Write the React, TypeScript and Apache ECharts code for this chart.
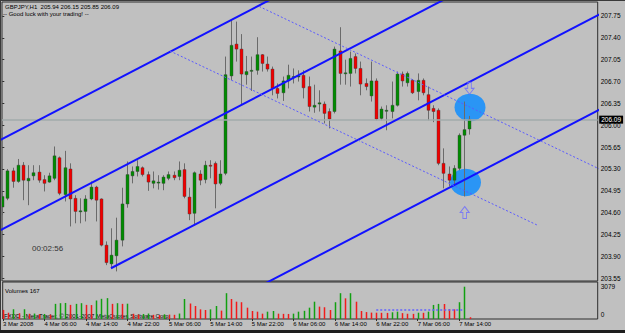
import React, { useEffect, useRef } from 'react';
import * as echarts from 'echarts';

const symbolName = 'GBPJPY,H1';

const opens = [204.69,204.83,205.27,205.10,205.36,205.11,205.19,205.25,205.13,205.09,
205.15,205.48,204.89,205.30,204.83,204.63,204.62,204.82,205.01,204.82,
204.08,203.78,203.91,204.16,204.74,205.19,205.26,205.32,205.21,205.07,
205.09,205.07,205.15,205.20,205.18,205.29,204.85,204.59,205.22,205.13,
205.36,205.39,205.07,205.23,206.79,207.30,207.22,206.81,206.88,206.88,
207.13,206.98,206.90,206.59,206.52,206.71,206.78,206.79,206.80,206.62,
206.29,206.34,206.34,206.22,206.22,207.19,206.84,206.83,207.10,206.91,
206.67,206.47,206.71,206.11,206.24,206.22,206.32,206.82,206.68,206.72,
206.54,206.72,206.49,206.27,206.24,205.39,205.22,205.12,205.31,205.84,
205.94];

const highs = [204.93,205.30,205.32,205.46,205.41,205.36,205.36,205.36,205.20,205.24,
205.66,205.50,205.59,205.39,204.88,204.83,204.88,205.10,205.03,204.83,
204.14,204.35,204.52,205.00,205.42,205.34,205.44,205.34,205.26,205.26,
205.20,205.20,205.26,205.26,205.42,205.39,205.00,205.26,205.28,205.43,
205.44,205.42,205.44,207.10,207.69,207.66,207.46,207.11,207.10,207.41,
207.14,207.10,206.94,206.67,206.78,206.97,206.91,206.88,206.88,206.78,
206.65,206.56,206.38,206.27,207.26,207.57,207.05,207.18,207.15,207.02,
206.75,207.02,206.75,206.30,206.32,206.70,206.86,206.86,206.86,206.74,
206.83,206.75,206.62,206.32,206.27,205.63,205.34,205.36,205.87,206.38,
206.15];

const lows = [204.56,204.80,205.00,205.08,204.80,204.72,205.12,205.08,204.94,205.08,
205.12,204.88,204.78,204.38,204.43,204.43,204.46,204.80,204.46,204.06,
203.76,203.71,203.66,204.06,204.68,205.07,205.18,205.18,204.95,204.99,
204.97,204.96,205.12,205.12,205.12,204.83,204.48,204.40,205.04,205.07,
205.15,204.67,205.04,205.20,206.72,207.02,206.32,206.65,206.55,206.81,
206.86,206.86,206.48,206.43,206.39,206.59,206.67,206.70,206.43,206.22,
206.20,206.22,206.03,205.95,206.19,206.65,206.65,206.62,206.83,206.48,
206.56,206.38,206.08,206.08,205.92,206.11,206.30,206.62,206.62,206.50,
206.40,206.48,206.08,206.05,205.36,204.99,205.02,205.04,205.28,204.86,
205.85];

const closes = [204.86,205.27,205.10,205.36,205.12,205.15,205.24,205.12,205.07,205.19,
205.51,204.91,205.32,204.82,204.62,204.63,204.82,205.01,204.80,204.08,
203.80,203.92,204.16,204.74,205.21,205.26,205.34,205.21,205.09,205.11,
205.09,205.17,205.21,205.16,205.28,204.86,204.58,205.24,205.12,205.36,
205.35,205.06,205.22,206.81,207.28,207.22,206.82,206.86,206.88,207.13,
206.99,206.90,206.59,206.51,206.71,206.80,206.78,206.79,206.60,206.30,
206.32,206.36,206.19,206.10,207.22,206.83,206.84,207.07,206.91,206.66,
206.62,206.71,206.10,206.26,206.24,206.32,206.82,206.71,206.83,206.52,
206.72,206.52,206.24,206.22,205.39,205.23,205.12,205.31,205.84,205.93,
206.09];

const volumes = [866,600,930,550,930,500,520,450,480,420,
1443,1507,1530,1347,1443,1507,1347,1330,1763,1924,
1990,1443,1507,1443,1460,500,420,480,520,400,
380,450,420,400,520,1905,1477,1239,921,858,
921,1239,800,2460,1905,1652,1600,1080,763,699,
508,699,763,508,490,480,510,699,780,1080,
1650,1180,1120,860,1600,2460,1970,2460,1650,760,
660,610,600,590,580,640,700,560,500,490,
600,590,700,1340,1440,1430,930,920,1600,3079,
167];

const tickIndex = [0, 8, 16, 24, 32, 40, 48, 56, 64, 72, 80, 88];
const tickLabels = ['3 Mar 2008', '4 Mar 06:00', '4 Mar 14:00', '4 Mar 22:00', '5 Mar 06:00', '5 Mar 14:00',
  '5 Mar 22:00', '6 Mar 06:00', '6 Mar 14:00', '6 Mar 22:00', '7 Mar 06:00', '7 Mar 14:00'];
const priceTicks = [207.75, 207.40, 207.05, 206.70, 206.35, 206.00, 205.65, 205.30, 204.95, 204.60, 204.25, 203.90, 203.55];
const volumeTicks = [0, 3079];

// drawn objects (bar index, price)
const channelLines = [
  [[-1, 205.737], [53, 208.071]],
  [[-1, 204.291], [87, 208.094]],
  [[20.94, 203.710], [116, 207.818]],
  [[45, 203.223], [116, 206.292]],
];
const dottedLines = [
  [[49.5, 207.903], [116, 205.262]],
  [[32.31, 207.189], [103.02, 204.403]],
];
const circleMarks = [[90.12, 206.285], [89.25, 205.084]];
const downArrows = [[90.02, 206.592]];
const upArrows = [[89.09, 204.603]];
const volumeLevel = [[72, 860], [89, 860]];

const FONT = '"Liberation Sans", Arial, sans-serif';

export default function App() {
  const ref = useRef<HTMLDivElement>(null);
  useEffect(() => {
    if (!ref.current) return;
    const chart = echarts.init(ref.current, null, { renderer: 'svg' });
    const n = closes.length;
    const last = n - 1;
    const xMin = -0.058;
    const xMax = 114.72;
    const title = `${symbolName}  ${opens[last].toFixed(2)} ${highs[last].toFixed(2)} ${lows[last].toFixed(2)} ${closes[last].toFixed(2)}`;

    const candleData = opens.map((o, i) => [i, o, closes[i], lows[i], highs[i]]);
    const volData = volumes.map((v, i) => [i, v, i > 0 && v > volumes[i - 1] ? 1 : 0]);

    const lineSeries: any[] = [];
    channelLines.forEach((pts) => {
      lineSeries.push({
        type: 'line', xAxisIndex: 0, yAxisIndex: 0, data: pts, symbol: 'none', z: 5, silent: true,
        lineStyle: { color: '#1212ff', width: 2 }, clip: true,
      });
    });
    dottedLines.forEach((pts) => {
      lineSeries.push({
        type: 'line', xAxisIndex: 0, yAxisIndex: 0, data: pts, symbol: 'none', z: 5, silent: true,
        lineStyle: { color: '#5a5aff', width: 1, type: [2, 2] }, clip: true,
      });
    });

    const option: any = {
      animation: false,
      backgroundColor: '#c0c0c0',
      grid: [
        { left: 2, top: 2, width: 595.7, height: 279, show: true, borderColor: '#2e2e2e', borderWidth: 1, backgroundColor: 'transparent' },
        { left: 2, top: 282, width: 595.7, height: 37, show: true, borderColor: '#2e2e2e', borderWidth: 1, backgroundColor: 'transparent' },
      ],
      xAxis: [
        { type: 'value', gridIndex: 0, min: xMin, max: xMax, show: false },
        {
          type: 'value', gridIndex: 1, min: xMin, max: xMax,
          axisLine: { show: false }, splitLine: { show: false },
          axisTick: { show: true, customValues: tickIndex, length: 2, lineStyle: { color: '#2e2e2e' } },
          axisLabel: {
            customValues: tickIndex, align: 'left', margin: 2, fontSize: 6, fontFamily: FONT, color: '#000',
            formatter: (v: number) => tickLabels[tickIndex.indexOf(Math.round(v))] || '',
          },
        },
      ],
      yAxis: [
        {
          type: 'value', gridIndex: 0, position: 'right', min: 203.506, max: 207.974,
          axisLine: { show: false }, splitLine: { show: false },
          axisTick: { show: true, customValues: priceTicks, length: 2, lineStyle: { color: '#2e2e2e' } },
          axisLabel: { customValues: priceTicks, margin: 3, fontSize: 6.5, fontFamily: FONT, color: '#000', formatter: (v: number) => v.toFixed(2) },
        },
        {
          type: 'value', gridIndex: 1, position: 'right', min: 0, max: 3527,
          axisLine: { show: false }, splitLine: { show: false },
          axisTick: { show: false },
          axisLabel: {
            customValues: volumeTicks, margin: 3, fontSize: 6.5, fontFamily: FONT, color: '#000',
            formatter: (v: number) => (v === 0 ? '{lo|0}' : String(v)),
            rich: { lo: { padding: [0, 0, 10, 0], fontSize: 6.5, fontFamily: FONT, color: '#000' } },
          },
        },
      ],
      series: [
        {
          type: 'scatter', xAxisIndex: 0, yAxisIndex: 0, data: circleMarks, symbol: 'circle', symbolSize: [31, 27.5], z: 1, silent: true,
          itemStyle: { color: '#2a95f5', opacity: 1 },
          markLine: {
            silent: true, symbol: ['none', 'none'], data: [{ yAxis: closes[last] }],
            lineStyle: { color: '#a2abab', width: 1.5, type: 'solid' },
            label: {
              show: true, position: 'end', distance: 1.5, formatter: closes[last].toFixed(2),
              backgroundColor: '#000', color: '#fff', fontSize: 6.5, fontFamily: FONT, padding: [1, 2, 0, 2],
            },
          },
        },
        {
          type: 'custom', xAxisIndex: 0, yAxisIndex: 0, data: candleData, z: 3, clip: true,
          encode: { x: 0, y: [1, 2, 3, 4] },
          renderItem: (params: any, api: any) => {
            const i = api.value(0), o = api.value(1), c = api.value(2), l = api.value(3), h = api.value(4);
            const pH = api.coord([i, h]);
            const pL = api.coord([i, l]);
            const pO = api.coord([i, o]);
            const pC = api.coord([i, c]);
            const x = Math.round(pH[0]) + 0.5;
            const top = Math.min(pO[1], pC[1]);
            let ht = Math.abs(pO[1] - pC[1]);
            if (ht < 1) ht = 1;
            const up = c >= o;
            return {
              type: 'group',
              children: [
                { type: 'line', shape: { x1: x, y1: pH[1], x2: x, y2: pL[1] }, style: { stroke: '#6a6a6a', lineWidth: 1 } },
                { type: 'rect', shape: { x: x - 1.5, y: top, width: 3, height: ht }, style: { fill: up ? '#008c00' : '#f00000', stroke: '#3a3a3a', lineWidth: 0.4 } },
              ],
            };
          },
        },
        ...lineSeries,
        {
          type: 'scatter', xAxisIndex: 0, yAxisIndex: 0, data: downArrows, z: 6, silent: true,
          symbol: 'path://M3,0L7,0L7,6L10,6L5,12L0,6L3,6Z', symbolSize: [9, 12],
          itemStyle: { color: 'rgba(0,0,0,0)', borderColor: '#6a6aff', borderWidth: 1 },
        },
        {
          type: 'scatter', xAxisIndex: 0, yAxisIndex: 0, data: upArrows, z: 6, silent: true,
          symbol: 'path://M5,0L10,6L7,6L7,12L3,12L3,6L0,6Z', symbolSize: [9, 12],
          itemStyle: { color: 'rgba(0,0,0,0)', borderColor: '#6a6aff', borderWidth: 1 },
        },
        {
          type: 'custom', xAxisIndex: 1, yAxisIndex: 1, data: volData, z: 3, clip: true,
          encode: { x: 0, y: 1 },
          renderItem: (params: any, api: any) => {
            const i = api.value(0), v = api.value(1), g = api.value(2);
            const p = api.coord([i, v]);
            const b = api.coord([i, 0]);
            const x = Math.round(p[0]) + 0.5;
            return { type: 'rect', shape: { x: x - 0.75, y: p[1], width: 1.5, height: b[1] - p[1] }, style: { fill: g ? '#11a011' : '#f21a1a' } };
          },
        },
        {
          type: 'line', xAxisIndex: 1, yAxisIndex: 1, data: volumeLevel, symbol: 'none', z: 5, silent: true,
          lineStyle: { color: '#6262ff', width: 1.5, type: [2, 2] },
        },
      ],
      graphic: [
        { type: 'rect', shape: { x: 0, y: 0, width: 625, height: 1 }, style: { fill: '#3a3a3a' }, silent: true },
        { type: 'rect', shape: { x: 0, y: 0, width: 1, height: 333 }, style: { fill: '#3a3a3a' }, silent: true },
        { type: 'rect', shape: { x: 0, y: 330, width: 625, height: 3 }, style: { fill: '#1e1e1e' }, silent: true },
        { type: 'text', x: 5, y: 6.5, style: { text: title, fill: '#000', fontSize: 6, fontFamily: FONT, verticalAlign: 'middle' }, silent: true },
        { type: 'text', x: 3, y: 14, style: { text: '-- Good luck with your trading! --', fill: '#000', fontSize: 6, fontFamily: FONT, verticalAlign: 'middle' }, silent: true },
        { type: 'text', x: 32, y: 248, style: { text: '00:02:56', fill: '#333', fontSize: 8, fontFamily: FONT, verticalAlign: 'middle' }, silent: true },
        { type: 'text', x: 5, y: 290.7, style: { text: `Volumes ${volumes[last]}`, fill: '#000', fontSize: 6, fontFamily: FONT, verticalAlign: 'middle' }, silent: true },
        { type: 'text', x: 4, y: 315.7, style: { text: 'FXDD - MetaTrader, © 2001-2007 MetaQuotes Software Corp.', fill: '#000', fontSize: 6, fontFamily: FONT, verticalAlign: 'middle' }, silent: true },
      ],
    };
    chart.setOption(option);
    return () => chart.dispose();
  }, []);
  return <div ref={ref} style={{ position: 'fixed', left: 0, top: 0, width: 625, height: 333, background: '#c0c0c0' }} />;
}
